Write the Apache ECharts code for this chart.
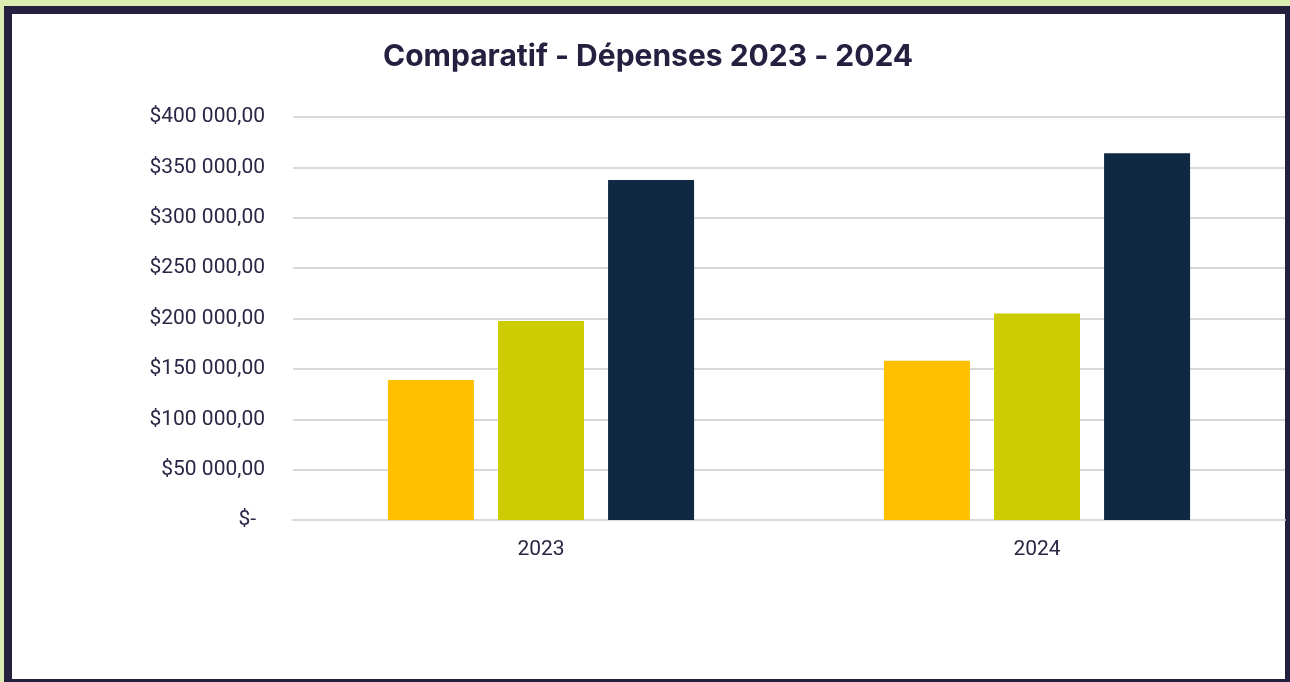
<!DOCTYPE html>
<html>
<head>
<meta charset="utf-8">
<script src="https://cdn.jsdelivr.net/npm/echarts@6/dist/echarts.min.js"></script>
<style>
  html, body { margin: 0; padding: 0; width: 1290px; height: 682px; overflow: hidden; background: #dcedb2; }
  #frame { position: absolute; left: 4px; top: 6px; width: 1286px; height: 676px; background: #26203f; }
  #inner { position: absolute; left: 12px; top: 14px; width: 1273px; height: 665px; background: #ffffff; }
  #chart { position: absolute; left: 0; top: 0; width: 1290px; height: 682px; }
</style>
</head>
<body>
<div id="frame"></div>
<div id="inner"></div>
<div id="chart"></div>
<script>
const titleText = 'Comparatif - Dépenses 2023 - 2024';
const categories = ['2023', '2024'];
const seriesNames = ['Série 1', 'Série 2', 'Série 3'];
const series1 = [139000, 158000];
const series2 = [197500, 205000];
const series3 = [337500, 364000];
const colors = ['#ffc000', '#cccc00', '#0f2942'];

function fmt(v) {
  if (v === 0) return '{z|$-}';
  const s = Math.round(v).toString().replace(/\B(?=(\d{3})+(?!\d))/g, ' ');
  return '$' + s + ',00';
}

const chart = echarts.init(document.getElementById('chart'), null, { renderer: 'canvas' });
const textColor = '#2a2745';
chart.setOption({
  animation: false,
  backgroundColor: 'transparent',
  title: {
    text: titleText,
    left: 378,
    top: 37,
    textStyle: { fontFamily: 'Inter', fontWeight: 'bold', fontSize: 30, color: '#24203f' }
  },
  grid: { left: 293, right: 5, top: 117, bottom: 162 },
  xAxis: {
    type: 'category',
    data: categories,
    axisLine: { show: true, lineStyle: { color: '#d9d9d9', width: 2 } },
    axisTick: { show: false },
    axisLabel: { margin: 19, fontFamily: 'Roboto', fontSize: 21, color: textColor }
  },
  yAxis: {
    type: 'value',
    min: 0,
    max: 400000,
    interval: 50000,
    axisLine: { show: false },
    axisTick: { show: false },
    splitLine: { lineStyle: { color: '#d9d9d9', width: 2 } },
    axisLabel: {
      margin: 28,
      fontFamily: 'Roboto',
      fontSize: 21,
      color: textColor,
      formatter: fmt,
      rich: { z: { fontFamily: 'Roboto', fontSize: 21, color: textColor, padding: [0, 9, 0, 0] } }
    }
  },
  series: [series1, series2, series3].map((d, i) => ({
    name: seriesNames[i],
    type: 'bar',
    data: d,
    barWidth: 86,
    barGap: '28%',
    itemStyle: { color: colors[i] }
  }))
});
</script>
</body>
</html>
